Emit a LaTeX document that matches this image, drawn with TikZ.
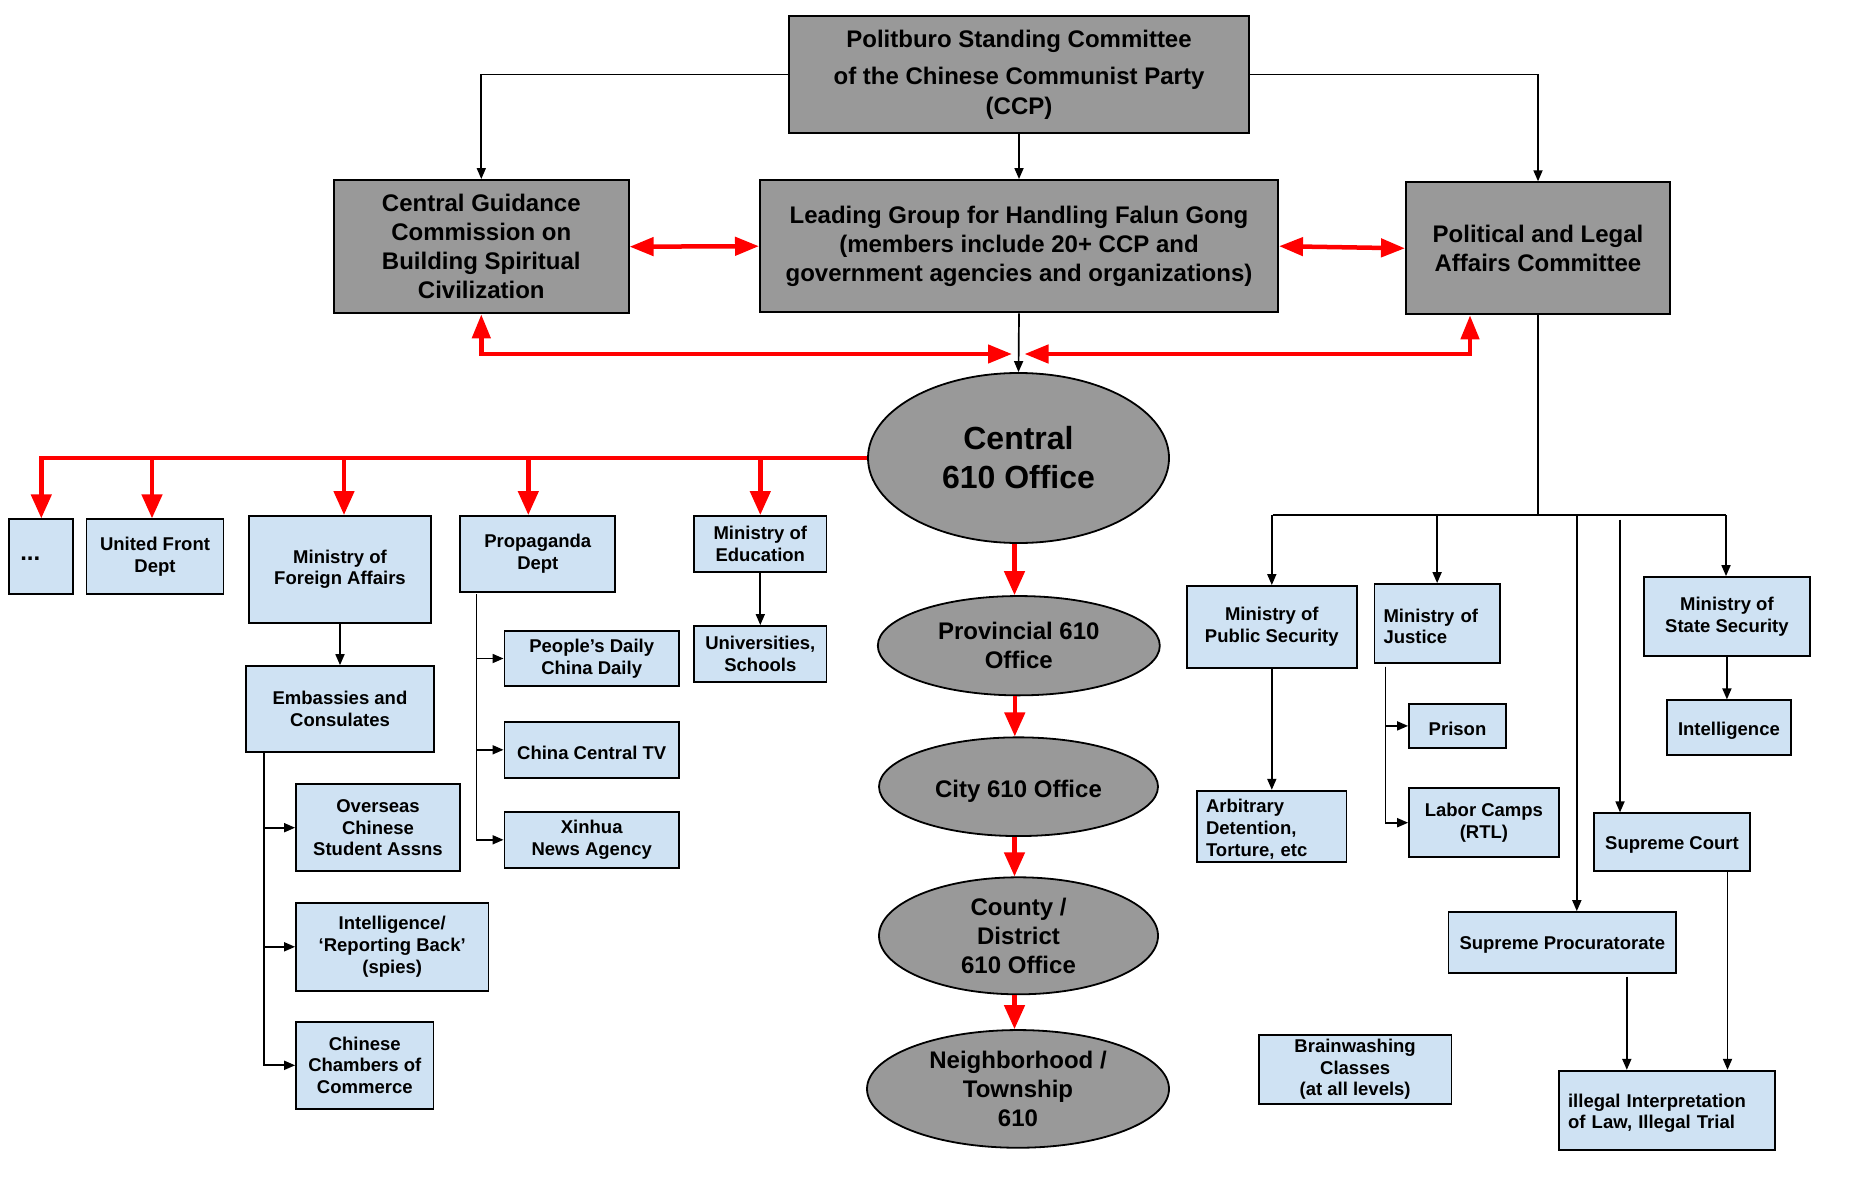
\documentclass[tikz,border=0pt]{standalone}
\usepackage{fontspec}
\setmainfont{Liberation Sans}
\usetikzlibrary{arrows.meta,shapes.geometric}
\definecolor{gbox}{HTML}{999999}
\definecolor{bbox}{HTML}{CFE2F3}
\definecolor{rline}{HTML}{FF0000}
\begin{document}
\begin{tikzpicture}[x=1pt,y=-1pt,
  topstrut/.style={execute at begin node={\rule{0pt}{#1}}},
  gb/.style={draw=black, fill=gbox, line width=2pt, inner sep=0pt, align=center,
    font=\bfseries\fontsize{24}{29}\selectfont, topstrut=0.86em},
  ellbase/.style={ellipse, draw=black, fill=gbox, line width=1.8pt, inner sep=0pt, align=center,
    font=\bfseries\fontsize{24}{29}\selectfont},
  ell/.style={ellbase, topstrut=0.86em},
  blbase/.style={draw=black, fill=bbox, line width=1.8pt, inner sep=0pt, align=center,
    font=\bfseries\fontsize{18.5}{21.7}\selectfont},
  bl/.style={blbase, topstrut=1.02em},
  conn/.style={draw=black, line width=1.7pt, -{Triangle[length=11pt,width=9pt]}},
  plain/.style={draw=black, line width=1.7pt},
  rconn/.style={draw=rline, line width=4.5pt, line join=miter, -{Triangle[length=24pt,width=20pt]}},
  rdbl/.style={draw=rline, line width=4.5pt, line join=miter, {Triangle[length=24pt,width=18pt]}-{Triangle[length=24pt,width=18pt]}}
]
\useasboundingbox[fill=white] (0,0) rectangle (1870,1201);

% top grey boxes
\node[gb, minimum width=460pt, minimum height=117.6pt] (PB) at (1019,74.5)
  {Politburo Standing Committee\\[8pt]of the Chinese Communist Party\\[1pt](CCP)};
\node[gb, minimum width=294.5pt, minimum height=133.3pt] (CG) at (481.3,246.7)
  {Central Guidance\\Commission on\\Building Spiritual\\Civilization};
\node[gb, minimum width=518pt, minimum height=132.3pt, topstrut=1.0em] (LG) at (1019,246.2)
  {Leading Group for Handling Falun Gong\\(members include 20+ CCP and\\government agencies and organizations)};
\node[gb, minimum width=264pt, minimum height=132pt] (PL) at (1538,248.3)
  {Political and Legal\\Affairs Committee};

% ellipses
\node[ell, minimum width=301pt, minimum height=170pt, font=\bfseries\fontsize{32}{39}\selectfont] (C) at (1018.5,458)
  {Central\\610 Office};
\node[ell, minimum width=282pt, minimum height=99.3pt] (Prov) at (1018.8,645.7) {Provincial 610\\Office};
\node[ellbase, topstrut=1.1em, minimum width=279pt, minimum height=98.7pt] (City) at (1018.5,786.7) {City 610 Office};
\node[ell, minimum width=279pt, minimum height=117pt] (County) at (1018.5,935.8) {County /\\District\\610 Office};
\node[ell, minimum width=302pt, minimum height=117.7pt] (Nbh) at (1018,1088.9) {Neighborhood /\\Township\\610};

% left blue boxes
\node[blbase, minimum width=63.5pt, minimum height=75pt, text width=42pt, inner xsep=11pt, align=left,
  text height=7.7pt, text depth=0pt, font=\bfseries\fontsize{24}{29}\selectfont] (dots) at (41.3,556.8) {...};
\node[bl, minimum width=137pt, minimum height=75pt] (UF) at (155,556.8) {United Front\\Dept};
\node[bl, minimum width=182pt, minimum height=106.7pt] (MFA) at (340,569.3) {Ministry of\\Foreign Affairs};
\node[bl, minimum width=155pt, minimum height=75.7pt] (Prop) at (537.8,553.8) {Propaganda\\Dept};
\node[bl, minimum width=132.5pt, minimum height=55.7pt] (Edu) at (760.3,543.8) {Ministry of\\Education};
\node[bl, minimum width=132.5pt, minimum height=55.7pt] (Univ) at (760.3,653.8) {Universities,\\Schools};
\node[bl, minimum width=174.5pt, minimum height=55.6pt] (PD) at (591.7,658.5) {People’s Daily\\China Daily};
\node[bl, minimum width=174.5pt, minimum height=55.7pt] (CCTV) at (591.7,749.8) {China Central TV};
\node[bl, minimum width=174.5pt, minimum height=55.7pt] (Xin) at (591.7,839.8) {Xinhua\\News Agency};
\node[bl, minimum width=188pt, minimum height=86.3pt] (Emb) at (340,709.2) {Embassies and\\Consulates};
\node[bl, minimum width=164pt, minimum height=87.3pt] (OS) at (378,827.7) {Overseas\\Chinese\\Student Assns};
\node[bl, minimum width=192.4pt, minimum height=87.7pt] (IRB) at (392.2,946.8) {Intelligence/\\‘Reporting Back’\\(spies)};
\node[bl, minimum width=137.5pt, minimum height=86.7pt] (CC) at (364.8,1065.3) {Chinese\\Chambers of\\Commerce};

% right blue boxes
\node[bl, minimum width=169.6pt, minimum height=81.7pt] (PS) at (1271.8,626.8) {Ministry of\\Public Security};
\node[bl, minimum width=125.2pt, minimum height=79pt, text width=107.2pt, inner xsep=9pt, align=left] (Jus) at (1437.1,623.5) {Ministry of\\Justice};
\node[bl, minimum width=165.8pt, minimum height=79pt] (SS) at (1726.9,616.5) {Ministry of\\State Security};
\node[bl, minimum width=124.3pt, minimum height=55pt] (Intel) at (1728.9,727.8) {Intelligence};
\node[bl, minimum width=97pt, minimum height=43.7pt] (Prison) at (1457.5,725.9) {Prison};
\node[bl, minimum width=149.4pt, minimum height=71.6pt, text width=131.4pt, inner xsep=9pt, align=left] (Arb) at (1271.7,826.5) {Arbitrary\\Detention,\\Torture, etc};
\node[bl, minimum width=149.7pt, minimum height=69.3pt] (Lab) at (1483.9,822.7) {Labor Camps\\(RTL)};
\node[bl, minimum width=156pt, minimum height=57.4pt] (SC) at (1672,842) {Supreme Court};
\node[bl, minimum width=227.8pt, minimum height=60.7pt] (SP) at (1562.3,942.4) {Supreme Procuratorate};
\node[bl, minimum width=215.9pt, minimum height=79.3pt, text width=197.3pt, inner xsep=9.3pt, align=left] (Ill) at (1666.7,1110.4) {illegal Interpretation\\of Law, Illegal Trial};
\node[bl, minimum width=192.6pt, minimum height=68.7pt] (BW) at (1355.1,1069.4) {Brainwashing\\Classes\\(at all levels)};

% black connectors from the top
\draw[conn] (PB.west) -| (CG.north);
\draw[conn] (PB.east) -| (PL.north);
\draw[conn] (PB.south) -- (LG.north);
\draw[conn] (LG.south) -- (C.north);

% red links among top groups
\draw[rdbl] (CG.east) -- (LG.west);
\draw[rdbl] (LG.east) -- (PL.west);
\coordinate (jl) at (1012,354);
\coordinate (jr) at (1024.5,354);
\coordinate (plr) at ([xshift=-68pt]PL.south);
\draw[rdbl] (CG.south) |- (jl);
\draw[rdbl] (plr) |- (jr);

% red branch to the left
\draw[rconn] (C.west) -| (dots.north);
\coordinate (ufa) at ([xshift=-3pt]UF.north);
\coordinate (mfaa) at ([xshift=4pt]MFA.north);
\coordinate (propa) at ([xshift=-9.5pt]Prop.north);
\draw[rconn] (ufa |- C.west) -- (ufa);
\draw[rconn] (mfaa |- C.west) -- (mfaa);
\draw[rconn] (propa |- C.west) -- (propa);
\draw[rconn] (Edu.north |- C.west) -- (Edu.north);

% red chain of 610 offices
\coordinate (c1) at ([xshift=-4pt]C.south);
\coordinate (c2) at ([xshift=-4pt]Prov.south);
\coordinate (c3) at ([xshift=-4pt]City.south);
\coordinate (c4) at ([xshift=-4pt]County.south);
\draw[rconn] (c1) -- (c1 |- Prov.north);
\draw[rconn] (c2) -- (c2 |- City.north);
\draw[rconn] (c3) -- (c3 |- County.north);
\draw[rconn] (c4) -- (c4 |- Nbh.north);

% left black sub-branches
\draw[conn] (MFA.south) -- (Emb.north);
\draw[conn] (Edu.south) -- (Univ.north);
\coordinate (embs) at ([xshift=19pt]Emb.south west);
\draw[conn] (embs) |- (OS.west);
\draw[conn] (embs) |- (IRB.west);
\draw[conn] (embs) |- (CC.west);
\coordinate (props) at ([xshift=17pt,yshift=-1.5pt]Prop.south west);
\draw[conn] (props) |- (PD.west);
\draw[conn] (props) |- (CCTV.west);
\draw[conn] (props) |- (Xin.west);

% right black branches
\coordinate (brL) at (1272.5,515);
\coordinate (brR) at (1726,515);
\draw[plain] (PL.south) -- (PL.south |- brL);
\draw[plain] (brL) -- (brR);
\draw[conn] (PS.north |- brL) -- (PS.north);
\draw[conn] (Jus.north |- brL) -- (Jus.north);
\draw[conn] (brR) -- (brR |- SS.north);
\coordinate (spa) at ([xshift=14.5pt]SP.north);
\draw[conn] (spa |- brL) -- (spa);
\coordinate (scTop) at (1620,519.5);
\draw[conn] (scTop) -- (scTop |- SC.north);
\draw[conn] (PS.south) -- (PS.south |- Arb.north);
\draw[conn] (SS.south) -- (SS.south |- Intel.north);
\coordinate (juss) at ([xshift=12pt,yshift=-2.7pt]Jus.south west);
\draw[conn] (juss) |- (Prison.west);
\draw[conn] (juss) |- (Lab.west);
\coordinate (sps) at ([xshift=64.5pt,yshift=-3pt]SP.south);
\draw[conn] (sps) -- (sps |- Ill.north);
\coordinate (scs) at ([xshift=55.5pt]SC.south);
\draw[conn] (scs) -- (scs |- Ill.north);
\end{tikzpicture}
\end{document}
